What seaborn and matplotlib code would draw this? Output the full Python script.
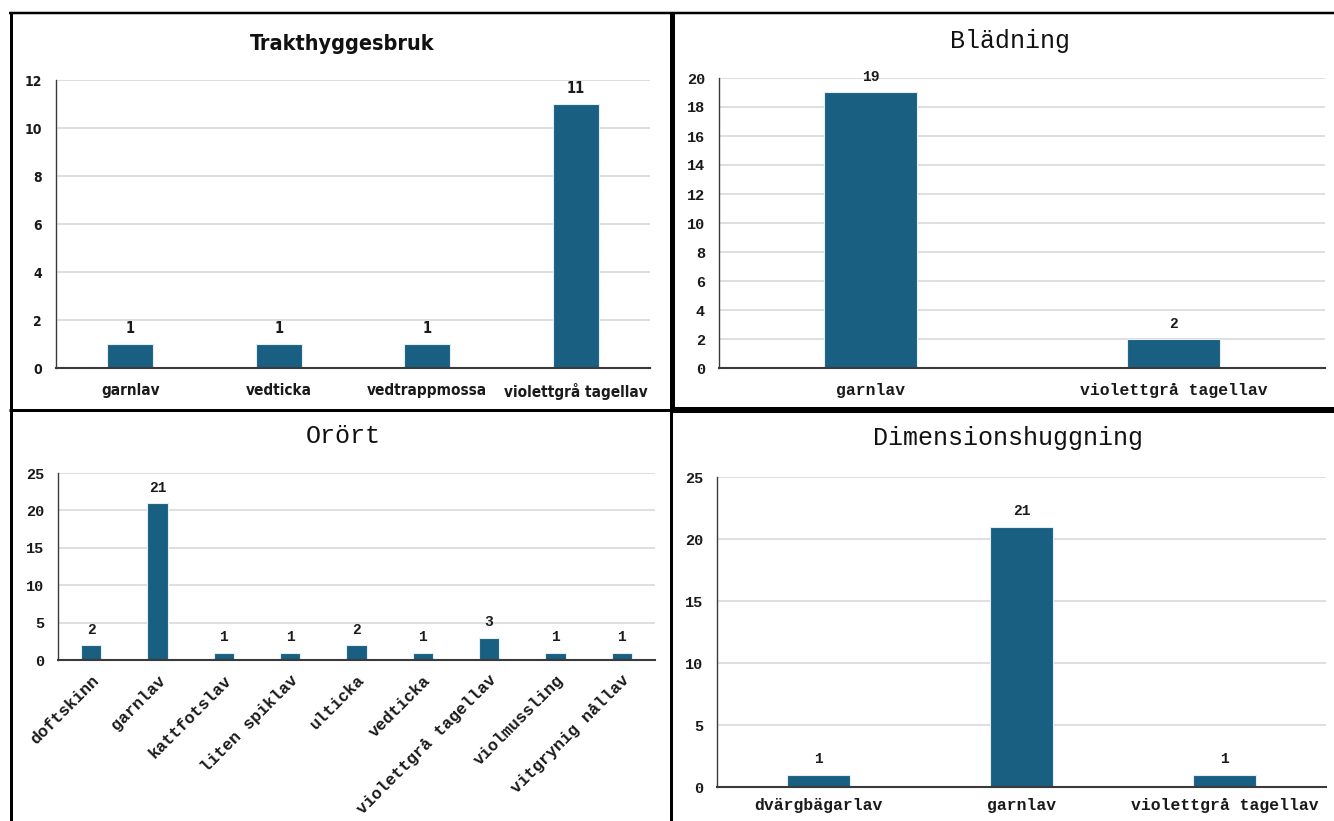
import matplotlib
matplotlib.use("Agg")
import matplotlib.pyplot as plt
import seaborn as sns

# --- data -------------------------------------------------------------
trakt_cats = ["garnlav", "vedticka", "vedtrappmossa", "violettgrå tagellav"]
trakt_vals = [1, 1, 1, 11]

bladning_cats = ["garnlav", "violettgrå tagellav"]
bladning_vals = [19, 2]

orort_cats = ["doftskinn", "garnlav", "kattfotslav", "liten spiklav", "ulticka",
              "vedticka", "violettgrå tagellav", "violmussling", "vitgrynig nållav"]
orort_vals = [2, 21, 1, 1, 2, 1, 3, 1, 1]

dim_cats = ["dvärgbägarlav", "garnlav", "violettgrå tagellav"]
dim_vals = [1, 21, 1]

titles = ["Trakthyggesbruk", "Blädning", "Orört", "Dimensionshuggning"]

# --- styling ----------------------------------------------------------
W, H = 1334, 821
BAR = "#185f81"
GRID = "#d9d9d9"
SPINE = "#3a3a3a"
SANS = ["DejaVu Sans"]
MONO = ["Liberation Mono", "DejaVu Sans Mono"]

sns.set_theme(style="white")
plt.rcParams["font.family"] = ["Liberation Mono", "DejaVu Sans Mono"]

fig = plt.figure(figsize=(W / 100, H / 100), dpi=100)
fig.patch.set_facecolor("white")


def px_axes(left, top, right, bottom):
    return fig.add_axes([left / W, 1 - bottom / H, (right - left) / W, (bottom - top) / H])


def style_text(t, family, weight, fs, stretch):
    t.set_fontfamily(family)
    t.set_fontweight(weight)
    t.set_fontsize(fs)
    t.set_fontstretch(stretch)
    t.set_color("#1a1a1a")


def draw_panel(ax, cats, vals, ymax, ystep, family, weight, yfs, xfs, lfs,
               stretch="normal", xrot=0, xpad=10):
    sns.barplot(x=cats, y=vals, ax=ax, color=BAR, saturation=1, width=0.31,
                edgecolor="#e3edf2", linewidth=0.8)
    ax.set_ylim(0, ymax)
    ax.set_yticks(range(0, ymax + 1, ystep))
    ax.set_xlim(-0.5, len(cats) - 0.5)
    ax.set_xlabel("")
    ax.set_ylabel("")
    ax.yaxis.grid(True, color=GRID, linewidth=1.2)
    ax.set_axisbelow(True)
    for s in ["top", "right"]:
        ax.spines[s].set_visible(False)
    ax.spines["left"].set_color(SPINE)
    ax.spines["left"].set_linewidth(1.0)
    ax.spines["bottom"].set_color(SPINE)
    ax.spines["bottom"].set_linewidth(1.5)
    ax.tick_params(axis="both", length=0)
    ax.tick_params(axis="y", pad=10)
    ax.tick_params(axis="x", pad=xpad)
    for lab in ax.get_yticklabels():
        style_text(lab, family, weight, yfs, stretch)
    for lab in ax.get_xticklabels():
        style_text(lab, family, weight, xfs, stretch)
        if xrot:
            lab.set_rotation(xrot)
            lab.set_ha("right")
            lab.set_rotation_mode("anchor")
    labels = ax.bar_label(ax.containers[0], padding=6)
    for t in labels:
        style_text(t, family, weight, lfs, stretch)


# Trakthyggesbruk (top left)
ax1 = px_axes(56, 80, 650, 368)
draw_panel(ax1, trakt_cats, trakt_vals, 12, 2, SANS, "bold", 10, 11, 10.5,
           stretch="condensed", xpad=11)

# Blädning (top right)
ax2 = px_axes(719, 78, 1325, 368)
draw_panel(ax2, bladning_cats, bladning_vals, 20, 2, MONO, "bold", 11, 11.8, 10.5, xpad=11)

# Orört (bottom left)
ax3 = px_axes(58, 473, 655, 660)
draw_panel(ax3, orort_cats, orort_vals, 25, 5, MONO, "bold", 11, 12, 10.5, xrot=45, xpad=9)

# Dimensionshuggning (bottom right)
ax4 = px_axes(717, 477, 1326, 787)
draw_panel(ax4, dim_cats, dim_vals, 25, 5, MONO, "bold", 11, 11.8, 10.5, xpad=8)

# panel titles
fig.text(342 / W, 1 - 44 / H, titles[0], ha="center", va="center",
         fontsize=15.5, fontweight="bold", family=SANS, fontstretch="condensed",
         color="#111111")
fig.text(1010 / W, 1 - 41 / H, titles[1], ha="center", va="center",
         fontsize=18, family=MONO, color="#111111")
fig.text(343 / W, 1 - 436 / H, titles[2], ha="center", va="center",
         fontsize=18, family=MONO, color="#111111")
fig.text(1008 / W, 1 - 438 / H, titles[3], ha="center", va="center",
         fontsize=18, family=MONO, color="#111111")

# frame lines around the four panels
frame = fig.add_axes([0, 0, 1, 1], zorder=10)
frame.set_xlim(0, W)
frame.set_ylim(H, 0)
frame.axis("off")
frame.patch.set_alpha(0)
k = 0.72  # px -> pt
frame.plot([10.5, 10.5], [12, H], color="black", lw=3 * k, solid_capstyle="butt")
frame.plot([9, W], [13, 13], color="black", lw=2.5 * k, solid_capstyle="butt")
frame.plot([671.5, 671.5], [12, 411], color="black", lw=5 * k, solid_capstyle="butt")
frame.plot([670.5, 670.5], [411, H], color="black", lw=3 * k, solid_capstyle="butt")
frame.plot([9, 671], [410.5, 410.5], color="black", lw=3 * k, solid_capstyle="butt")
frame.plot([671, W], [410.5, 410.5], color="black", lw=6 * k, solid_capstyle="butt")

fig.savefig("out.png", dpi=100, facecolor="white")
